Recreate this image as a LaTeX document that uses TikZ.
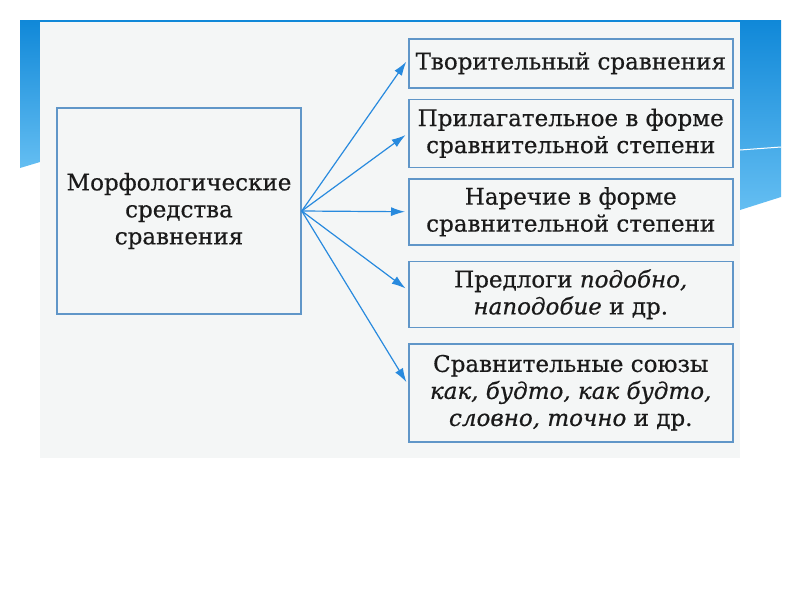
\documentclass[tikz,border=0pt]{standalone}
\usepackage{fontspec}
\setmainfont[FakeBold=0.6]{DejaVu Serif}
\usepackage{xcolor}
\usetikzlibrary{arrows.meta,positioning}
\definecolor{slideblue}{RGB}{16,136,216}
\definecolor{slidelight}{RGB}{100,190,242}
\definecolor{paper}{RGB}{244,246,246}
\definecolor{boxline}{RGB}{96,150,200}
\definecolor{arrowblue}{RGB}{40,138,222}
\definecolor{ink}{RGB}{26,26,26}
\tikzset{
  sredbox/.style={
    draw=boxline,
    line width=1.5pt,
    fill=paper,
    align=center,
    text=ink,
    font=\fontsize{23}{27}\selectfont,
    minimum width=324pt,
    inner sep=0pt
  },
  sredsrc/.style={
    sredbox,
    minimum width=244pt,
    minimum height=206pt
  },
  sredarrow/.style={
    -{Latex[length=14pt,width=9pt]},
    draw=arrowblue,
    line width=1.2pt,
    shorten >=3pt
  }
}
\begin{document}
\begin{tikzpicture}[x=1pt,y=-1pt,node distance=10pt]
    \useasboundingbox (0,0) rectangle (800,600);
    \fill[slideblue] (20,20) rectangle (780,24);
    \shade[top color=slideblue,bottom color=slidelight] (20,20) -- (40,20) -- (40,162) -- (20,168) -- cycle;
    \shade[top color=slideblue,bottom color=slidelight] (740,20) -- (781,20) -- (781,197) -- (740,210) -- cycle;
    \draw[white,line width=1pt] (740,150) -- (781,147);
    \fill[paper] (40,22) rectangle (740,458);

    \node[sredsrc] (sred) at (179,211) {Морфологические\\средства\\сравнения};
    \node[sredbox, minimum height=49pt, anchor=north west] (tvor) at (408,38) {Творительный сравнения};
    \node[sredbox, minimum height=68pt, below=of tvor] (pril) {Прилагательное в форме\\сравнительной степени};
    \node[sredbox, minimum height=66pt, below=of pril] (nar) {Наречие в форме\\сравнительной степени};
    \node[sredbox, minimum height=66pt, below=15pt of nar] (pred) {Предлоги \textit{подобно,}\\\textit{наподобие} и~др.};
    \node[sredbox, minimum height=98pt, below=15pt of pred] (souz) {Сравнительные союзы\\\textit{как, будто, как будто,}\\\textit{словно, точно} и~др.};
    \coordinate (fork) at (sred.east);

    \draw[sredarrow] (fork) -- ([yshift=4pt]tvor.west);
    \draw[sredarrow] (fork) -- (pril.west);
    \draw[sredarrow] (fork) -- (nar.west);
    \draw[sredarrow] (fork) -- ([yshift=4pt]pred.west);
    \draw[sredarrow] (fork) -- ([yshift=8pt]souz.west);
\end{tikzpicture}
\end{document}
